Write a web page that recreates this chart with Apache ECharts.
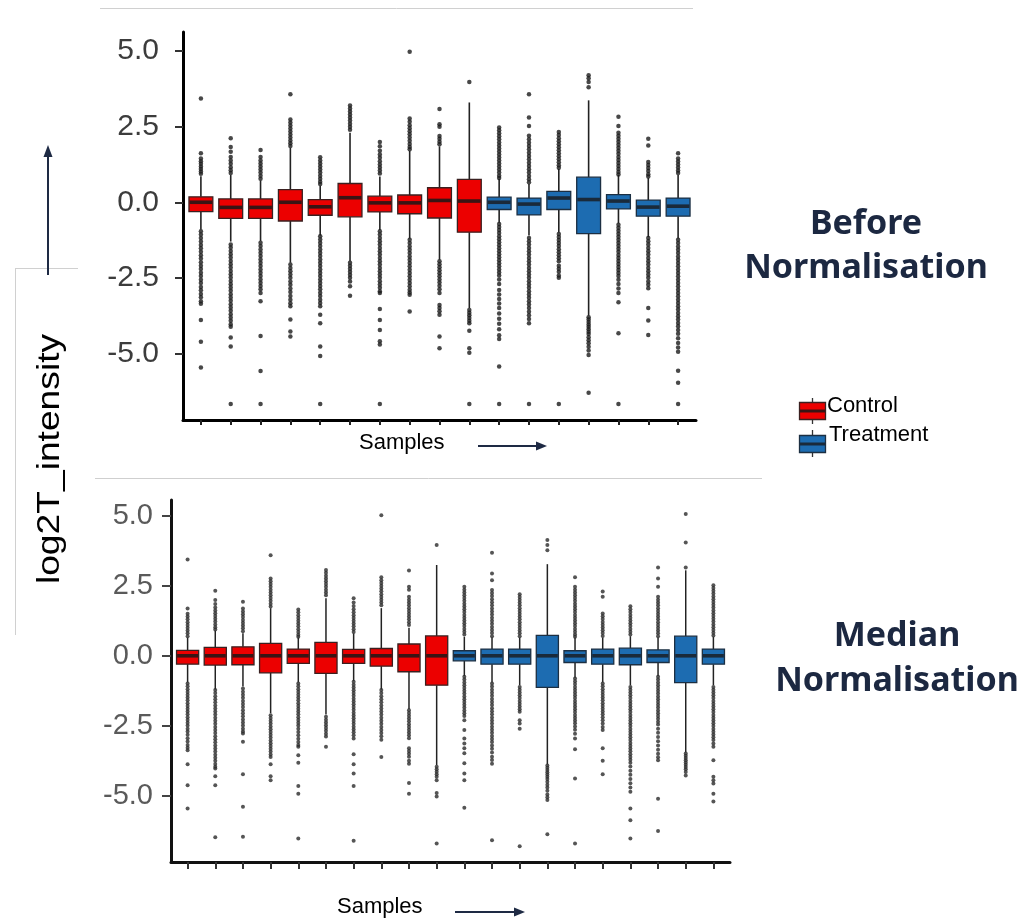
<!DOCTYPE html>
<html>
<head>
<meta charset="utf-8">
<script src="https://cdn.jsdelivr.net/npm/echarts@6.0.0/dist/echarts.min.js"></script>
<style>
html,body{margin:0;padding:0;background:#fff;}
#chart{width:1025px;height:921px;}
</style>
</head>
<body>
<div id="chart"></div>
<script>
// ---------------- DATA ----------------
const yTickValues = [-5, -2.5, 0, 2.5, 5];

// Before normalisation (17 samples)
const topSamples = ['C1','C2','C3','C4','C5','C6','C7','C8','C9','C10','T1','T2','T3','T4','T5','T6','T7'];
const topGroups  = ['Control','Control','Control','Control','Control','Control','Control','Control','Control','Control',
                    'Treatment','Treatment','Treatment','Treatment','Treatment','Treatment','Treatment'];
const topLow    = [-0.9, -1.3, -1.28, -2.0, -1.1, -1.95, -0.92, -1.2, -1.9, -3.5, -0.68, -1.1, -1.0, -3.75, -0.7, -1.15, -1.2];
const topQ1     = [-0.31, -0.53, -0.53, -0.62, -0.43, -0.48, -0.32, -0.38, -0.52, -0.99, -0.24, -0.42, -0.24, -1.04, -0.22, -0.46, -0.46];
const topMedian = [0.0, -0.17, -0.17, 0.0, -0.15, 0.15, -0.02, -0.02, 0.06, 0.04, 0.0, -0.06, 0.14, 0.09, 0.04, -0.16, -0.13];
const topQ3     = [0.18, 0.11, 0.11, 0.42, 0.09, 0.62, 0.2, 0.24, 0.48, 0.76, 0.17, 0.14, 0.36, 0.83, 0.25, 0.07, 0.14];
const topHigh   = [0.86, 0.9, 0.72, 1.8, 0.55, 2.3, 0.85, 1.7, 1.85, 3.3, 0.78, 0.6, 1.1, 3.37, 0.9, 0.8, 0.9];
const topOutliers = [
  [3.43,1.62,1.45,1.36,1.27,1.18,1.1,1.02,0.94,-0.96,-1.07,-1.18,-1.3,-1.41,-1.52,-1.64,-1.75,-1.86,-1.98,-2.1,-2.21,-2.33,-2.44,-2.56,-2.67,-2.8,-2.91,-3.03,-3.14,-3.27,-3.36,-3.89,-4.61,-5.46],
  [2.12,1.83,1.67,1.5,1.38,1.27,1.16,1.06,0.97,-1.4,-1.5,-1.61,-1.72,-1.83,-1.94,-2.05,-2.16,-2.27,-2.38,-2.49,-2.6,-2.71,-2.82,-2.93,-3.04,-3.15,-3.26,-3.37,-3.48,-3.59,-3.7,-3.81,-3.92,-4.03,-4.12,-4.47,-4.77,-6.67],
  [1.73,1.5,1.38,1.28,1.18,1.08,0.98,0.88,0.78,-1.34,-1.45,-1.56,-1.67,-1.78,-1.89,-2.0,-2.11,-2.22,-2.33,-2.44,-2.55,-2.66,-2.77,-2.88,-3.0,-3.27,-4.42,-5.58,-6.67],
  [3.57,2.74,2.64,2.54,2.44,2.34,2.24,2.14,2.04,1.95,1.86,-2.06,-2.17,-2.28,-2.39,-2.5,-2.62,-2.73,-2.85,-2.97,-3.1,-3.22,-3.34,-3.44,-3.88,-4.27,-4.44],
  [1.49,1.38,1.28,1.18,1.08,0.98,0.88,0.78,0.68,0.6,-1.12,-1.23,-1.34,-1.45,-1.56,-1.67,-1.78,-1.89,-2.0,-2.11,-2.22,-2.33,-2.44,-2.55,-2.66,-2.77,-2.88,-2.99,-3.1,-3.22,-3.33,-3.44,-3.72,-4.0,-4.77,-5.08,-6.67],
  [3.2,3.1,3.0,2.9,2.8,2.7,2.6,2.5,2.4,-2.0,-2.1,-2.2,-2.3,-2.4,-2.5,-2.62,-2.78,-3.09],
  [1.99,1.85,1.7,1.58,1.47,1.36,1.25,1.15,1.05,0.95,-0.96,-1.07,-1.18,-1.29,-1.4,-1.51,-1.62,-1.73,-1.84,-1.95,-2.06,-2.17,-2.28,-2.39,-2.5,-2.61,-2.72,-2.83,-2.94,-3.0,-3.53,-3.89,-4.22,-4.6,-4.7,-6.67],
  [4.98,2.77,2.66,2.55,2.45,2.35,2.25,2.14,2.03,1.93,1.83,1.75,-1.24,-1.35,-1.46,-1.57,-1.68,-1.79,-1.9,-2.01,-2.12,-2.23,-2.34,-2.45,-2.56,-2.67,-2.78,-2.89,-2.98,-3.06,-3.61],
  [3.08,2.58,2.5,2.19,2.1,2.0,1.92,-1.95,-2.05,-2.15,-2.25,-2.35,-2.45,-2.55,-2.65,-2.76,-2.88,-3.0,-3.4,-3.5,-3.6,-3.72,-4.44,-4.83],
  [3.98,-3.56,-3.65,-3.74,-3.83,-3.92,-4.0,-4.25,-4.83,-4.98,-6.67],
  [2.47,2.38,2.28,2.18,2.08,1.98,1.88,1.78,1.68,1.58,1.48,1.38,1.28,1.18,1.08,0.98,0.88,0.8,-0.72,-0.82,-0.92,-1.02,-1.12,-1.22,-1.32,-1.42,-1.52,-1.62,-1.72,-1.82,-1.92,-2.02,-2.12,-2.22,-2.32,-2.42,-2.55,-2.7,-2.9,-3.05,-3.2,-3.35,-3.5,-3.68,-3.85,-4.02,-4.2,-4.4,-4.52,-5.43,-6.67],
  [3.57,2.8,2.52,2.2,2.08,1.97,1.86,1.75,1.64,1.53,1.42,1.31,1.2,1.09,0.98,0.87,0.76,0.66,-1.18,-1.29,-1.4,-1.51,-1.62,-1.73,-1.84,-1.95,-2.06,-2.17,-2.28,-2.39,-2.5,-2.61,-2.72,-2.83,-2.94,-3.05,-3.16,-3.27,-3.38,-3.5,-3.62,-3.74,-3.86,-4.0,-6.67],
  [2.32,2.22,2.12,2.02,1.92,1.82,1.72,1.62,1.52,1.42,1.32,1.22,1.14,-1.05,-1.15,-1.25,-1.35,-1.45,-1.55,-1.65,-1.75,-1.85,-1.95,-2.1,-2.2,-2.3,-2.42,-2.5,-6.67],
  [4.2,4.1,3.98,3.8,-3.8,-3.88,-3.96,-4.04,-4.12,-4.2,-4.28,-4.36,-4.46,-4.56,-4.66,-4.78,-4.9,-5.05,-6.3],
  [2.83,2.52,2.3,2.2,2.1,2.0,1.9,1.8,1.7,1.6,1.5,1.4,1.3,1.2,1.1,1.0,0.92,-0.74,-0.84,-0.94,-1.04,-1.14,-1.24,-1.34,-1.44,-1.54,-1.64,-1.74,-1.84,-1.94,-2.04,-2.14,-2.24,-2.34,-2.44,-2.56,-2.7,-2.85,-3.0,-3.31,-4.33,-6.67],
  [2.1,1.88,1.33,1.23,1.13,1.03,0.93,0.85,-1.18,-1.29,-1.4,-1.51,-1.62,-1.73,-1.84,-1.95,-2.06,-2.17,-2.28,-2.39,-2.5,-2.62,-2.73,-2.84,-3.5,-3.91,-4.39],
  [1.62,1.45,1.35,1.25,1.15,1.05,0.97,-1.24,-1.35,-1.46,-1.57,-1.68,-1.79,-1.9,-2.01,-2.12,-2.23,-2.34,-2.45,-2.56,-2.67,-2.78,-2.89,-3.0,-3.11,-3.22,-3.33,-3.44,-3.55,-3.66,-3.77,-3.88,-3.99,-4.1,-4.22,-4.35,-4.5,-4.65,-4.8,-4.94,-5.57,-5.97,-6.67]
];

// Median normalisation (20 samples)
const bottomSamples = ['C1','C2','C3','C4','C5','C6','C7','C8','C9','C10','T1','T2','T3','T4','T5','T6','T7','T8','T9','T10'];
const bottomGroups  = ['Control','Control','Control','Control','Control','Control','Control','Control','Control','Control',
                       'Treatment','Treatment','Treatment','Treatment','Treatment','Treatment','Treatment','Treatment','Treatment','Treatment'];
const bottomLow    = [-0.95, -1.2, -1.1, -2.05, -0.95, -2.1, -0.9, -1.2, -1.9, -3.9, -0.72, -0.95, -1.05, -3.88, -0.78, -0.95, -1.05, -0.72, -3.45, -1.05];
const bottomQ1     = [-0.3, -0.33, -0.32, -0.61, -0.27, -0.63, -0.27, -0.37, -0.57, -1.05, -0.18, -0.3, -0.3, -1.13, -0.24, -0.3, -0.32, -0.24, -0.96, -0.3];
const bottomMedian = [0, 0, 0, 0, 0, 0, 0, 0, 0, 0, 0, 0, 0, 0, 0, 0, 0, 0, 0, 0];
const bottomQ3     = [0.19, 0.3, 0.32, 0.44, 0.24, 0.48, 0.23, 0.26, 0.42, 0.71, 0.18, 0.24, 0.24, 0.73, 0.18, 0.24, 0.27, 0.21, 0.7, 0.24];
const bottomHigh   = [0.65, 0.9, 0.8, 1.7, 0.65, 2.05, 0.8, 1.7, 1.0, 3.24, 0.68, 0.65, 0.65, 3.27, 0.65, 0.65, 0.7, 0.65, 3.05, 0.68];
const bottomOutliers = [
  [3.44,1.69,1.5,1.4,1.3,1.2,1.1,1.0,0.9,0.8,0.7,-0.99,-1.09,-1.19,-1.29,-1.39,-1.49,-1.59,-1.69,-1.79,-1.89,-1.99,-2.09,-2.19,-2.29,-2.39,-2.49,-2.6,-2.7,-2.82,-2.94,-3.06,-3.18,-3.28,-3.37,-3.87,-4.62,-5.45],
  [2.32,1.99,1.85,1.72,1.62,1.52,1.42,1.32,1.22,1.12,1.02,0.94,-1.22,-1.33,-1.44,-1.55,-1.66,-1.77,-1.88,-1.99,-2.1,-2.21,-2.32,-2.43,-2.54,-2.65,-2.76,-2.87,-2.98,-3.09,-3.2,-3.31,-3.42,-3.53,-3.64,-3.75,-3.86,-3.96,-4.02,-4.3,-4.62,-6.48],
  [1.93,1.69,1.58,1.48,1.38,1.28,1.18,1.08,0.98,0.88,-1.17,-1.28,-1.39,-1.5,-1.61,-1.72,-1.83,-1.94,-2.05,-2.16,-2.27,-2.38,-2.49,-2.6,-2.7,-2.77,-3.07,-4.23,-5.39,-6.46],
  [3.59,2.76,2.66,2.56,2.46,2.36,2.26,2.16,2.06,1.96,1.86,1.76,-2.12,-2.22,-2.32,-2.42,-2.52,-2.62,-2.72,-2.82,-2.92,-3.02,-3.12,-3.22,-3.32,-3.42,-3.52,-3.61,-3.87,-4.3,-4.44],
  [1.65,1.55,1.45,1.35,1.25,1.15,1.05,0.95,0.85,0.75,0.68,-0.99,-1.09,-1.19,-1.29,-1.39,-1.49,-1.59,-1.69,-1.79,-1.89,-1.99,-2.09,-2.19,-2.29,-2.39,-2.49,-2.6,-2.72,-2.84,-2.96,-3.08,-3.18,-3.25,-3.55,-3.82,-4.65,-4.92,-6.52],
  [3.06,2.96,2.86,2.76,2.66,2.56,2.46,2.36,2.26,2.16,-2.18,-2.28,-2.38,-2.48,-2.58,-2.68,-2.78,-2.88,-3.25],
  [2.05,1.9,1.78,1.66,1.55,1.45,1.35,1.25,1.15,1.05,0.95,0.85,-0.93,-1.03,-1.13,-1.23,-1.33,-1.43,-1.53,-1.63,-1.73,-1.83,-1.93,-2.03,-2.13,-2.23,-2.33,-2.43,-2.53,-2.63,-2.73,-2.84,-2.95,-3.51,-3.87,-4.2,-4.65,-6.6],
  [5.02,2.8,2.7,2.6,2.5,2.4,2.3,2.2,2.1,2.0,1.9,1.8,-1.22,-1.33,-1.44,-1.55,-1.66,-1.77,-1.88,-1.99,-2.1,-2.21,-2.32,-2.43,-2.54,-2.65,-2.76,-2.87,-3.0,-3.61],
  [3.04,2.46,2.36,2.11,2.0,1.9,1.8,1.7,1.6,1.5,1.4,1.3,1.2,1.1,-1.94,-2.04,-2.14,-2.24,-2.34,-2.44,-2.54,-2.64,-2.74,-2.84,-2.94,-3.3,-3.4,-3.5,-3.6,-3.75,-3.85,-4.54,-4.92],
  [3.95,-3.96,-4.05,-4.14,-4.23,-4.32,-4.44,-4.9,-5.02,-6.7],
  [2.46,2.36,2.26,2.16,2.06,1.96,1.86,1.76,1.66,1.56,1.46,1.36,1.26,1.16,1.06,0.96,0.86,0.76,-0.75,-0.85,-0.95,-1.05,-1.15,-1.25,-1.35,-1.45,-1.55,-1.65,-1.75,-1.85,-1.95,-2.05,-2.15,-2.3,-2.65,-2.95,-3.13,-3.3,-3.48,-3.84,-4.2,-4.44,-5.42],
  [3.68,2.94,2.7,2.35,2.24,2.13,2.02,1.91,1.8,1.69,1.58,1.47,1.36,1.25,1.14,1.03,0.92,0.81,0.7,-0.99,-1.1,-1.21,-1.32,-1.43,-1.54,-1.65,-1.76,-1.87,-1.98,-2.09,-2.2,-2.31,-2.42,-2.53,-2.64,-2.75,-2.86,-2.97,-3.08,-3.2,-3.32,-3.45,-3.6,-3.72,-3.85,-6.58],
  [2.2,2.1,2.0,1.9,1.8,1.7,1.6,1.5,1.4,1.3,1.2,1.1,1.0,0.9,0.8,0.7,-1.11,-1.21,-1.31,-1.41,-1.51,-1.61,-1.71,-1.81,-1.91,-2.0,-2.3,-2.42,-2.6,-6.8],
  [4.13,3.95,3.77,-3.92,-4.0,-4.08,-4.16,-4.24,-4.32,-4.4,-4.5,-4.6,-4.7,-4.82,-4.95,-5.05,-5.15,-6.37],
  [2.8,2.46,2.36,2.26,2.16,2.06,1.96,1.86,1.76,1.66,1.56,1.46,1.36,1.26,1.16,1.06,0.96,0.86,0.76,0.68,-0.81,-0.91,-1.01,-1.11,-1.21,-1.31,-1.41,-1.51,-1.61,-1.71,-1.81,-1.91,-2.01,-2.11,-2.21,-2.31,-2.41,-2.52,-2.64,-2.78,-2.95,-3.34,-4.38,-6.7],
  [2.29,2.11,1.51,1.41,1.31,1.21,1.11,1.01,0.91,0.81,0.71,-0.99,-1.09,-1.19,-1.29,-1.39,-1.49,-1.59,-1.69,-1.79,-1.89,-1.99,-2.09,-2.19,-2.3,-2.42,-2.54,-2.65,-3.3,-3.75,-4.23],
  [1.77,1.66,1.56,1.46,1.36,1.26,1.16,1.06,0.96,0.86,0.76,-1.11,-1.21,-1.31,-1.41,-1.51,-1.61,-1.71,-1.81,-1.91,-2.01,-2.11,-2.21,-2.31,-2.41,-2.51,-2.61,-2.71,-2.81,-2.91,-3.01,-3.11,-3.21,-3.31,-3.41,-3.51,-3.61,-3.71,-3.82,-3.95,-4.1,-4.25,-4.4,-4.55,-4.7,-4.85,-5.45,-5.87,-6.52],
  [3.15,2.76,2.46,2.11,2.0,1.9,1.8,1.7,1.6,1.5,1.4,1.3,1.2,1.1,1.0,0.9,0.8,0.7,-0.75,-0.85,-0.95,-1.05,-1.15,-1.25,-1.35,-1.45,-1.55,-1.65,-1.75,-1.85,-1.95,-2.05,-2.15,-2.25,-2.35,-2.45,-2.6,-2.75,-2.9,-3.05,-3.2,-3.35,-3.5,-3.62,-3.73,-5.1,-6.25],
  [5.06,4.04,3.15,-3.49,-3.57,-3.65,-3.73,-3.81,-3.89,-3.97,-4.05,-4.15,-4.27],
  [2.52,2.42,2.32,2.22,2.12,2.02,1.92,1.82,1.72,1.62,1.52,1.42,1.32,1.22,1.12,1.02,0.92,0.82,0.72,-1.11,-1.21,-1.31,-1.41,-1.51,-1.61,-1.71,-1.81,-1.91,-2.01,-2.11,-2.21,-2.31,-2.41,-2.51,-2.61,-2.71,-2.81,-2.91,-3.01,-3.13,-3.25,-3.73,-4.32,-4.44,-4.56,-4.92,-5.2]
];

// ---------------- STYLE ----------------
const groupFill   = {Control: '#ec0000', Treatment: '#1d6cb1'};
const groupBorder = {Control: '#3a2020', Treatment: '#1c2f42'};
const groupMedian = {Control: '#3a1414', Treatment: '#1a2a3a'};
const navy = '#1e2a44';

function boxData(samples, lo, q1, med, q3, hi) {
  return samples.map((s, i) => [i, lo[i], q1[i], med[i], q3[i], hi[i]]);
}
function outlierData(outs) {
  const pts = [];
  outs.forEach((arr, i) => arr.forEach(v => pts.push([i, v])));
  return pts;
}
function makeRender(groups, lw) {
  return function (params, api) {
    const x = api.value(0);
    const pLo = api.coord([x, api.value(1)]);
    const pQ1 = api.coord([x, api.value(2)]);
    const pMed = api.coord([x, api.value(3)]);
    const pQ3 = api.coord([x, api.value(4)]);
    const pHi = api.coord([x, api.value(5)]);
    const w = api.size([0.8, 0])[0];
    const g = groups[params.dataIndex];
    return {
      type: 'group',
      children: [
        {type: 'line', shape: {x1: pHi[0], y1: pHi[1], x2: pQ3[0], y2: pQ3[1]}, style: {stroke: '#222', lineWidth: lw}},
        {type: 'line', shape: {x1: pQ1[0], y1: pQ1[1], x2: pLo[0], y2: pLo[1]}, style: {stroke: '#222', lineWidth: lw}},
        {type: 'rect', shape: {x: pQ3[0] - w / 2, y: pQ3[1], width: w, height: pQ1[1] - pQ3[1]},
          style: {fill: groupFill[g], stroke: groupBorder[g], lineWidth: 1.3}},
        {type: 'rect', shape: {x: pMed[0] - w / 2 + 0.6, y: pMed[1] - 1.8, width: w - 1.2, height: 3.6},
          style: {fill: groupMedian[g]}}
      ]
    };
  };
}

const fmt = v => Number(v).toFixed(1);

const chart = echarts.init(document.getElementById('chart'), null, {renderer: 'canvas'});

const option = {
  backgroundColor: '#ffffff',
  animation: false,
  grid: [
    {left: 183, top: 32, width: 513, height: 388},
    {left: 171, top: 500, width: 559, height: 362}
  ],
  xAxis: [
    {
      type: 'value', gridIndex: 0, min: -0.6, max: topSamples.length - 0.4,
      axisLine: {show: true, onZero: false, lineStyle: {color: '#000', width: 3}},
      axisTick: {show: true, customValues: topSamples.map((s, i) => i), length: 5, lineStyle: {color: '#222', width: 2}},
      axisLabel: {show: false},
      splitLine: {show: false}
    },
    {
      type: 'value', gridIndex: 1, min: -0.6, max: bottomSamples.length - 0.4,
      axisLine: {show: true, onZero: false, lineStyle: {color: '#111', width: 3}},
      axisTick: {show: true, customValues: bottomSamples.map((s, i) => i), length: 7, lineStyle: {color: '#333', width: 2}},
      axisLabel: {show: false},
      splitLine: {show: false}
    }
  ],
  yAxis: [
    {
      type: 'value', gridIndex: 0, min: -7.2, max: 5.63,
      axisLine: {show: true, onZero: false, lineStyle: {color: '#000', width: 3}},
      axisTick: {show: true, customValues: yTickValues, length: 8, lineStyle: {color: '#333', width: 2}},
      axisLabel: {show: true, customValues: yTickValues, formatter: fmt, margin: 24,
        fontSize: 30, color: '#3c3c3c', fontFamily: '"Liberation Sans", Arial, sans-serif'},
      splitLine: {show: false}
    },
    {
      type: 'value', gridIndex: 1, min: -7.36, max: 5.56,
      axisLine: {show: true, onZero: false, lineStyle: {color: '#111', width: 3}},
      axisTick: {show: true, customValues: yTickValues, length: 9, lineStyle: {color: '#444', width: 2}},
      axisLabel: {show: true, customValues: yTickValues, formatter: fmt, margin: 18,
        fontSize: 29, color: '#5a5a5a', fontFamily: '"Liberation Sans", Arial, sans-serif'},
      splitLine: {show: false}
    }
  ],
  series: [
    {
      name: 'Before', type: 'custom', xAxisIndex: 0, yAxisIndex: 0, z: 2,
      renderItem: makeRender(topGroups, 1.6),
      encode: {x: 0, y: [1, 2, 3, 4, 5]},
      data: boxData(topSamples, topLow, topQ1, topMedian, topQ3, topHigh)
    },
    {
      name: 'Before outliers', type: 'scatter', xAxisIndex: 0, yAxisIndex: 0, z: 3,
      symbol: 'circle', symbolSize: 4.5, itemStyle: {color: '#1a1a1a'},
      data: outlierData(topOutliers)
    },
    {
      name: 'Median', type: 'custom', xAxisIndex: 1, yAxisIndex: 1, z: 2,
      renderItem: makeRender(bottomGroups, 1.5),
      encode: {x: 0, y: [1, 2, 3, 4, 5]},
      data: boxData(bottomSamples, bottomLow, bottomQ1, bottomMedian, bottomQ3, bottomHigh)
    },
    {
      name: 'Median outliers', type: 'scatter', xAxisIndex: 1, yAxisIndex: 1, z: 3,
      symbol: 'circle', symbolSize: 4, itemStyle: {color: '#2a2a2a'},
      data: outlierData(bottomOutliers)
    }
  ],
  graphic: [
    // faint frame lines from the original composite
    {type: 'line', shape: {x1: 100, y1: 8.5, x2: 693, y2: 8.5}, style: {stroke: '#d0d0d0', lineWidth: 1}, silent: true},
    {type: 'line', shape: {x1: 95, y1: 478.5, x2: 762, y2: 478.5}, style: {stroke: '#cfcfcf', lineWidth: 1}, silent: true},
    {type: 'line', shape: {x1: 15.5, y1: 268, x2: 15.5, y2: 635}, style: {stroke: '#d0d0d0', lineWidth: 1}, silent: true},
    {type: 'line', shape: {x1: 15, y1: 268.5, x2: 78, y2: 268.5}, style: {stroke: '#d0d0d0', lineWidth: 1}, silent: true},

    // y axis title (stretched, as in the original)
    {type: 'text', x: 50, y: 459, rotation: Math.PI / 2, scaleX: 1.2,
      style: {text: 'log2T_intensity', font: '31px "Liberation Sans", Arial, sans-serif', fill: '#000',
        textAlign: 'center', textVerticalAlign: 'middle'}},
    // y arrow
    {type: 'line', shape: {x1: 48, y1: 275, x2: 48, y2: 154}, style: {stroke: navy, lineWidth: 2}},
    {type: 'polygon', shape: {points: [[48, 145], [43.5, 157], [52.5, 157]]}, style: {fill: navy}},

    // Samples labels + arrows
    {type: 'text', x: 359, y: 443,
      style: {text: 'Samples', font: '22px "Liberation Sans", Arial, sans-serif', fill: '#000', textAlign: 'left', textVerticalAlign: 'middle'}},
    {type: 'line', shape: {x1: 478, y1: 446, x2: 538, y2: 446}, style: {stroke: navy, lineWidth: 2}},
    {type: 'polygon', shape: {points: [[547, 446], [536, 441.5], [536, 450.5]]}, style: {fill: navy}},
    {type: 'text', x: 337, y: 907,
      style: {text: 'Samples', font: '22px "Liberation Sans", Arial, sans-serif', fill: '#000', textAlign: 'left', textVerticalAlign: 'middle'}},
    {type: 'line', shape: {x1: 455, y1: 912, x2: 515, y2: 912}, style: {stroke: navy, lineWidth: 2}},
    {type: 'polygon', shape: {points: [[525, 912], [514, 907.5], [514, 916.5]]}, style: {fill: navy}},

    // Panel titles
    {type: 'text', x: 866, y: 224,
      style: {text: 'Before', font: 'bold 34px "Noto Sans", sans-serif', fill: '#1c2841', textAlign: 'center', textVerticalAlign: 'middle'}},
    {type: 'text', x: 866, y: 268,
      style: {text: 'Normalisation', font: 'bold 34px "Noto Sans", sans-serif', fill: '#1c2841', textAlign: 'center', textVerticalAlign: 'middle'}},
    {type: 'text', x: 897, y: 636,
      style: {text: 'Median', font: 'bold 34px "Noto Sans", sans-serif', fill: '#1c2841', textAlign: 'center', textVerticalAlign: 'middle'}},
    {type: 'text', x: 897, y: 681,
      style: {text: 'Normalisation', font: 'bold 34px "Noto Sans", sans-serif', fill: '#1c2841', textAlign: 'center', textVerticalAlign: 'middle'}},

    // Legend
    {type: 'line', shape: {x1: 812.5, y1: 398, x2: 812.5, y2: 424}, style: {stroke: '#333', lineWidth: 1.3}},
    {type: 'rect', shape: {x: 799.5, y: 402.5, width: 26, height: 17}, style: {fill: groupFill.Control, stroke: groupBorder.Control, lineWidth: 1.3}},
    {type: 'rect', shape: {x: 800, y: 409.5, width: 25, height: 3}, style: {fill: groupMedian.Control}},
    {type: 'text', x: 827, y: 406,
      style: {text: 'Control', font: '22px "Liberation Sans", Arial, sans-serif', fill: '#000', textAlign: 'left', textVerticalAlign: 'middle'}},
    {type: 'line', shape: {x1: 812.5, y1: 430, x2: 812.5, y2: 457}, style: {stroke: '#333', lineWidth: 1.3}},
    {type: 'rect', shape: {x: 799.5, y: 435.5, width: 26, height: 17}, style: {fill: groupFill.Treatment, stroke: groupBorder.Treatment, lineWidth: 1.3}},
    {type: 'rect', shape: {x: 800, y: 442.5, width: 25, height: 3}, style: {fill: groupMedian.Treatment}},
    {type: 'text', x: 829, y: 435,
      style: {text: 'Treatment', font: '22px "Liberation Sans", Arial, sans-serif', fill: '#000', textAlign: 'left', textVerticalAlign: 'middle'}}
  ]
};

chart.setOption(option);
</script>
</body>
</html>
